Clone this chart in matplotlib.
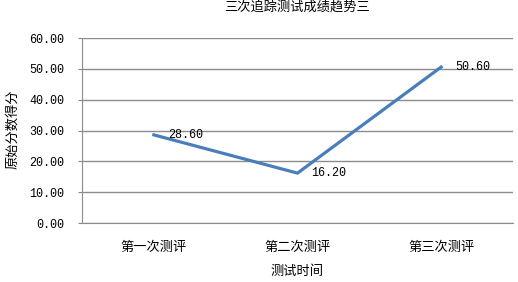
import matplotlib.pyplot as plt

plt.rcParams['font.family'] = ['Noto Sans CJK SC', 'DejaVu Sans']

categories = ['第一次测评', '第二次测评', '第三次测评']
scores = [28.60, 16.20, 50.60]
yticks = [0, 10, 20, 30, 40, 50, 60]

fig = plt.figure(figsize=(5.18, 2.82), dpi=100)
ax = fig.add_axes([0.1583, 0.209, 0.832, 0.656])

x = list(range(len(categories)))
ax.plot(x, scores, color='#4A7EBB', linewidth=2.3, solid_joinstyle='miter', zorder=3)

for xi, v in zip(x, scores):
    ax.annotate(f'{v:.2f}', (xi, v), xytext=(10, 0), textcoords='offset points',
                va='center', ha='left', fontsize=8.5, family='Liberation Mono')

ax.set_xlim(-0.5, len(categories) - 0.5)
ax.set_ylim(0, 60)
ax.set_yticks(yticks)
ax.set_yticklabels([f'{t:.2f}' for t in yticks], family='Liberation Mono', fontsize=8.5)
ax.set_xticks(x)
ax.set_xticklabels(categories, fontsize=9.5)
ax.tick_params(axis='x', length=0, pad=13)
ax.tick_params(axis='y', length=3, color='#888888', pad=10)

ax.grid(axis='y', color='#8c8c8c', linewidth=1)
ax.set_axisbelow(True)
for s in ['top', 'right']:
    ax.spines[s].set_visible(False)
for s in ['left', 'bottom']:
    ax.spines[s].set_color('#8c8c8c')

ax.set_title('三次追踪测试成绩趋势三', fontsize=9.5, pad=19)
ax.set_xlabel('测试时间', fontsize=9.5, labelpad=8)
fig.text(13 / 518, 0.54, '原始分数得分', rotation=90, ha='center', va='center', fontsize=9.5)

fig.savefig('out.png', dpi=100)
